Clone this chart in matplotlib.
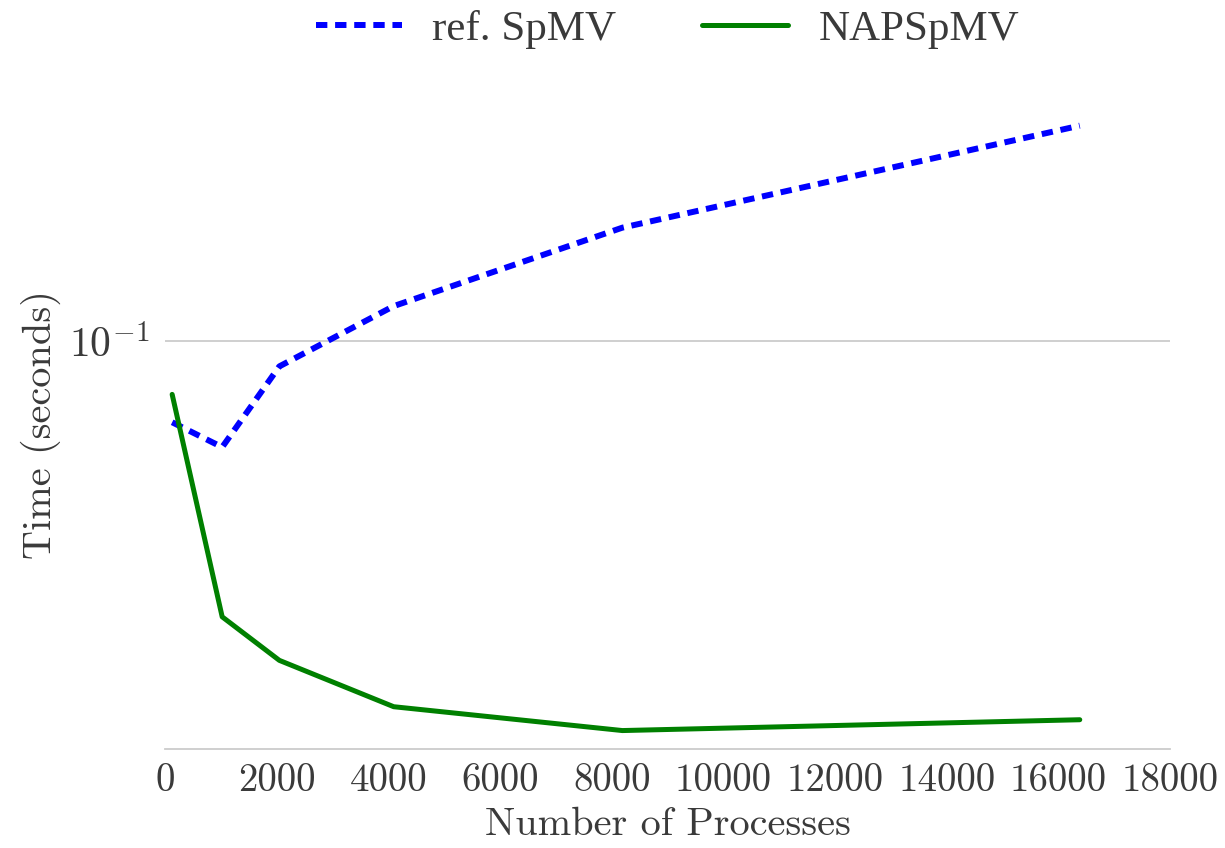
import numpy as np
import matplotlib
matplotlib.use('Agg')
import matplotlib.pyplot as plt

# number of processes
procs = [128, 1024, 2048, 4096, 8192, 16384]

# times in seconds
ref_spmv = [0.0633, 0.0550, 0.0868, 0.122, 0.190, 0.338]
nap_spmv = [0.0741, 0.0211, 0.0165, 0.0127, 0.0111, 0.0118]

xticks = [0, 2000, 4000, 6000, 8000, 10000, 12000, 14000, 16000, 18000]

plt.rcParams['font.family'] = ['cmr10', 'DejaVu Serif']
plt.rcParams['mathtext.fontset'] = 'cm'
plt.rcParams['axes.unicode_minus'] = False
text_color = '#3a3a3a'

fig = plt.figure(figsize=(12.25, 8.48), dpi=100)
ax = fig.add_axes([0.1347, 0.1167, 0.8204, 0.765])

ax.plot(procs, ref_spmv, color='blue', linewidth=4.3, dashes=(1.9, 1.3), label='ref. SpMV')
ax.plot(procs, nap_spmv, color='green', linewidth=3.6, label='NAPSpMV', solid_capstyle='round')

ax.set_yscale('log')
ax.set_ylim(0.01, 0.39)
ax.set_xlim(0, 18000)

ax.set_yticks([0.1])
ax.set_yticklabels([r'$10^{-1}$'], fontsize=30)
ax.yaxis.set_minor_locator(matplotlib.ticker.NullLocator())
ax.set_xticks(xticks)
ax.set_xticklabels([str(t) for t in xticks])

ax.tick_params(axis='both', length=0, labelcolor=text_color, pad=10)
ax.tick_params(axis='x', labelsize=28)
ax.tick_params(axis='y', pad=11)
ax.grid(axis='y', color='#cccccc', linewidth=1.3)
ax.set_axisbelow(True)

for side in ['top', 'left', 'right']:
    ax.spines[side].set_visible(False)
ax.spines['bottom'].set_color('#cccccc')
ax.spines['bottom'].set_linewidth(1.3)

ax.set_xlabel('Number of Processes', fontsize=29, color=text_color, labelpad=6)
ax.set_ylabel('Time (seconds)', fontsize=29, color=text_color, labelpad=6)

leg = ax.legend(loc='lower center', bbox_to_anchor=(0.5, 1.02), ncol=2, frameon=False,
                prop={'family': 'Liberation Serif', 'size': 31}, columnspacing=2.0,
                handlelength=2.0, handletextpad=0.7)
for t in leg.get_texts():
    t.set_color(text_color)

fig.savefig('out.png', dpi=100)
